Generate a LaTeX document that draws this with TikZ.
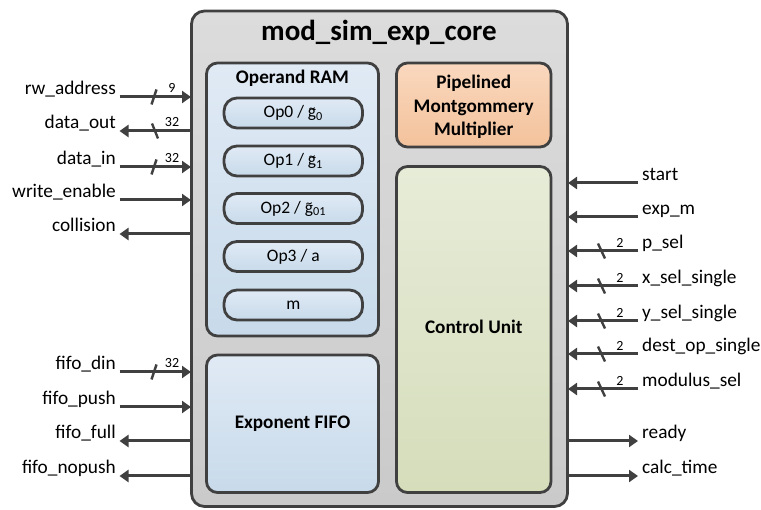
\documentclass[tikz,border=0pt]{standalone}
\usepackage{fontspec}
\setmainfont{Carlito}
\usetikzlibrary{arrows.meta}
\definecolor{ln}{RGB}{64,64,64}
\definecolor{grayT}{RGB}{220,220,220}
\definecolor{grayB}{RGB}{202,202,202}
\definecolor{blueT}{RGB}{224,234,245}
\definecolor{blueB}{RGB}{200,218,234}
\definecolor{orangeT}{RGB}{250,216,190}
\definecolor{orangeB}{RGB}{243,194,155}
\definecolor{greenT}{RGB}{231,236,216}
\definecolor{greenB}{RGB}{213,221,187}
\newcommand{\tildeg}{\leavevmode\hbox{\ooalign{g\cr\hidewidth\raisebox{0.62ex}{\fontsize{13}{13}\selectfont\textasciitilde}\hidewidth\cr}}}
\begin{document}
\begin{tikzpicture}[x=1pt,y=-1pt,
  box/.style={draw=ln, line width=2.8pt, rounded corners=11pt, inner sep=0pt},
  corebox/.style={box, top color=grayT, bottom color=grayB},
  bluebox/.style={box, top color=blueT, bottom color=blueB},
  orangebox/.style={box, top color=orangeT, bottom color=orangeB},
  greenbox/.style={box, top color=greenT, bottom color=greenB},
  opbox/.style={bluebox, rounded corners=13pt, minimum width=138.5pt, minimum height=30pt, font=\fontsize{17.5}{20}\selectfont},
  boxlabel/.style={font=\bfseries\fontsize{19.2}{23.5}\selectfont, align=center, inner sep=0pt},
  siglabelL/.style={anchor=base east, inner sep=0pt, font=\fontsize{19.3}{21}\selectfont},
  siglabelR/.style={anchor=base west, inner sep=0pt, font=\fontsize{19.3}{21}\selectfont},
  sig/.style={draw=ln, line width=3pt, -{Triangle[length=9pt,width=12pt]}},
  buss/.style={draw=ln, line width=2.4pt},
  buslabel/.style={inner sep=0pt, font=\fontsize{14}{14}\selectfont}
]
\useasboundingbox (0,0) rectangle (761,510);

% main blocks
\node[corebox, minimum width=376pt, minimum height=495.5pt, rounded corners=13pt] (core) at (379.5,258.75) {};
\node[font=\bfseries\fontsize{29}{32}\selectfont, inner sep=0pt] (title) at (379,33) {mod\_sim\_exp\_core};

\node[bluebox, minimum width=172pt, minimum height=273pt] (ram) at (292.5,199.5) {};
\node[boxlabel] (ramlabel) at (292.5,78) {Operand RAM};
\node[opbox] (op0) at (293.3,113) {Op0 / \tildeg\textsubscript{0}};
\node[opbox] (op1) at (293.3,161) {Op1 / \tildeg\textsubscript{1}};
\node[opbox] (op2) at (293.3,208.5) {Op2 / \tildeg\textsubscript{01}};
\node[opbox] (op3) at (293.3,256.5) {Op3 / a};
\node[opbox] (opm) at (293.3,305) {m};

\node[orangebox, minimum width=154.5pt, minimum height=84pt] (mult) at (473.75,105) {};
\node[boxlabel] (multlabel) at (473.75,107) {Pipelined\\Montgommery\\Multiplier};

\node[greenbox, minimum width=154.5pt, minimum height=326pt] (ctrl) at (473.75,329.5) {};
\node[boxlabel] (ctrllabel) at (473.75,327) {Control Unit};

\node[bluebox, minimum width=172pt, minimum height=137.5pt] (fifo) at (292.5,423.75) {};
\node[boxlabel] (fifolabel) at (292.5,424) {Exponent FIFO};

% ---------- left signals ----------
\node[siglabelL] (l1) at (116,95) {rw\_address};
\coordinate (l1a) at (119.5,97); \coordinate (l1b) at (191,97);
\draw[sig] (l1a) -- (l1b);
\draw[buss] (151.5,104.5) -- (156.5,89.5);
\node[buslabel] (l1w) at (172,88) {9};

\node[siglabelL] (l2) at (116,129) {data\_out};
\coordinate (l2a) at (191,131); \coordinate (l2b) at (119.5,131);
\draw[sig] (l2a) -- (l2b);
\draw[buss] (152,123.5) -- (158,138.5);
\node[buslabel] (l2w) at (172,122) {32};

\node[siglabelL] (l3) at (116,165) {data\_in};
\coordinate (l3a) at (119.5,167); \coordinate (l3b) at (191,167);
\draw[sig] (l3a) -- (l3b);
\draw[buss] (151.5,174.5) -- (156.5,159.5);
\node[buslabel] (l3w) at (172,158) {32};

\node[siglabelL] (l4) at (116,198) {write\_enable};
\coordinate (l4a) at (119.5,200); \coordinate (l4b) at (191,200);
\draw[sig] (l4a) -- (l4b);

\node[siglabelL] (l5) at (116,232) {collision};
\coordinate (l5a) at (191,234); \coordinate (l5b) at (119.5,234);
\draw[sig] (l5a) -- (l5b);

\node[siglabelL] (l6) at (116,370) {fifo\_din};
\coordinate (l6a) at (119.5,372); \coordinate (l6b) at (191,372);
\draw[sig] (l6a) -- (l6b);
\draw[buss] (151.5,379.5) -- (156.5,364.5);
\node[buslabel] (l6w) at (172,363) {32};

\node[siglabelL] (l7) at (116,405) {fifo\_push};
\coordinate (l7a) at (119.5,407); \coordinate (l7b) at (191,407);
\draw[sig] (l7a) -- (l7b);

\node[siglabelL] (l8) at (116,439) {fifo\_full};
\coordinate (l8a) at (191,441); \coordinate (l8b) at (119.5,441);
\draw[sig] (l8a) -- (l8b);

\node[siglabelL] (l9) at (116,474) {fifo\_nopush};
\coordinate (l9a) at (191,476); \coordinate (l9b) at (119.5,476);
\draw[sig] (l9a) -- (l9b);

% ---------- right signals ----------
\node[siglabelR] (r1) at (642,181) {start};
\coordinate (r1a) at (638,183); \coordinate (r1b) at (568,183);
\draw[sig] (r1a) -- (r1b);

\node[siglabelR] (r2) at (642,215) {exp\_m};
\coordinate (r2a) at (638,217); \coordinate (r2b) at (568,217);
\draw[sig] (r2a) -- (r2b);

\node[siglabelR] (r3) at (642,249) {p\_sel};
\coordinate (r3a) at (638,251); \coordinate (r3b) at (568,251);
\draw[sig] (r3a) -- (r3b);
\draw[buss] (598,243.5) -- (605,258.5);
\node[buslabel] (r3w) at (620,243) {2};

\node[siglabelR] (r4) at (642,284) {x\_sel\_single};
\coordinate (r4a) at (638,286); \coordinate (r4b) at (568,286);
\draw[sig] (r4a) -- (r4b);
\draw[buss] (598,278.5) -- (605,293.5);
\node[buslabel] (r4w) at (620,278) {2};

\node[siglabelR] (r5) at (642,319) {y\_sel\_single};
\coordinate (r5a) at (638,321); \coordinate (r5b) at (568,321);
\draw[sig] (r5a) -- (r5b);
\draw[buss] (598,313.5) -- (605,328.5);
\node[buslabel] (r5w) at (620,313) {2};

\node[siglabelR] (r6) at (642,352) {dest\_op\_single};
\coordinate (r6a) at (638,354); \coordinate (r6b) at (568,354);
\draw[sig] (r6a) -- (r6b);
\draw[buss] (598,346.5) -- (605,361.5);
\node[buslabel] (r6w) at (620,346) {2};

\node[siglabelR] (r7) at (642,387) {modulus\_sel};
\coordinate (r7a) at (638,389); \coordinate (r7b) at (568,389);
\draw[sig] (r7a) -- (r7b);
\draw[buss] (598,381.5) -- (605,396.5);
\node[buslabel] (r7w) at (620,381) {2};

\node[siglabelR] (r8) at (642,439) {ready};
\coordinate (r8a) at (568,441); \coordinate (r8b) at (638,441);
\draw[sig] (r8a) -- (r8b);

\node[siglabelR] (r9) at (642,474) {calc\_time};
\coordinate (r9a) at (568,476); \coordinate (r9b) at (638,476);
\draw[sig] (r9a) -- (r9b);
\end{tikzpicture}
\end{document}
